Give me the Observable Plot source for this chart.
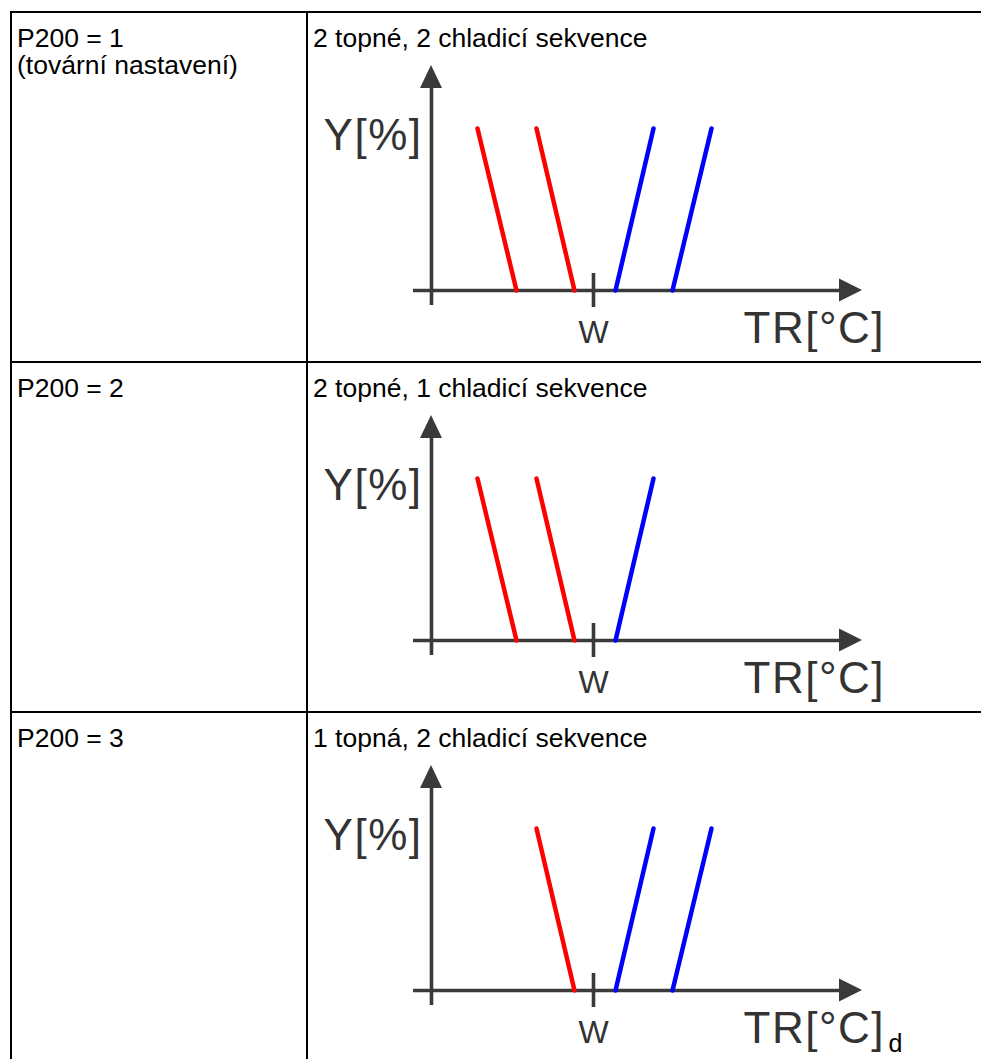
<!DOCTYPE html>
<html>
<head>
<meta charset="utf-8">
<script src="https://cdn.jsdelivr.net/npm/d3@7"></script>
<script src="https://cdn.jsdelivr.net/npm/@observablehq/plot@0.6"></script>
<style>
  html, body { margin: 0; padding: 0; background: #fff; overflow: hidden; }
  #page { position: relative; width: 981px; height: 1059px; overflow: hidden; font-family: "Liberation Sans", Arial, sans-serif; color: #000; }
  .hline { position: absolute; left: 10px; right: 0; height: 2px; background: #000; }
  .vline { position: absolute; top: 11px; bottom: 0; width: 2px; background: #000; }
  .cell { position: absolute; font-size: 26.5px; line-height: 27px; white-space: nowrap; }
  .chart { position: absolute; left: 0; width: 981px; height: 350px; pointer-events: none; }
  .chart svg { overflow: visible; }
  .chart .big text, .chart text.big { letter-spacing: 1.5px; }
</style>
</head>
<body>
<div id="page"></div>
<script>
// ---- data ----
const rowLabels = ["P200 = 1", "P200 = 2", "P200 = 3"];
const rowNotes = ["(tovární nastavení)", "", ""];
const subtitles = ["2 topné, 2 chladicí sekvence", "2 topné, 1 chladicí sekvence", "1 topná, 2 chladicí sekvence"];
const heatingCount = [2, 2, 1];
const coolingCount = [2, 1, 2];
// stages ordered from w outward; x in temperature units relative to w (w = 0)
const heatingAt0 = [-0.95, -3.85];
const heatingAt100 = [-2.85, -5.8];
const coolingAt0 = [1.1, 3.95];
const coolingAt100 = [3.0, 5.9];
const yLevels = [0, 100];
const yAxisLabel = "Y[%]";
const wLabel = "w";
const xAxisLabel = "TR[°C]";
const xAxisSub = ["", "", "d"];
// axis geometry in data units
const yAxisAt = -8.1;
const yAxisSpan = [-9.3, 125];
const yArrowSpan = [124.7, 138.9];
const xAxisSpan = [-9.0, 12.4];
const xArrowSpan = [12.3, 13.45];
const wTickSpan = [-10.5, 10.5];

const axisColor = "#3a3a3a";
const textColor = "#333333";
const font = "Liberation Sans, Arial, sans-serif";

const page = document.getElementById("page");
const rowTop = i => 11 + 350 * i;

// table borders
for (let i = 0; i < 3; i++) {
  const h = document.createElement("div");
  h.className = "hline";
  h.style.top = rowTop(i) + "px";
  page.appendChild(h);
}
for (const x of [10, 306]) {
  const v = document.createElement("div");
  v.className = "vline";
  v.style.left = x + "px";
  page.appendChild(v);
}

function segments(i) {
  const heat = [], cool = [];
  for (let k = 0; k < heatingCount[i]; k++) {
    heat.push({x: heatingAt0[k], y: yLevels[0], id: k}, {x: heatingAt100[k], y: yLevels[1], id: k});
  }
  for (let k = 0; k < coolingCount[i]; k++) {
    cool.push({x: coolingAt0[k], y: yLevels[0], id: k}, {x: coolingAt100[k], y: yLevels[1], id: k});
  }
  return {heat, cool};
}

function chart(i) {
  const {heat, cool} = segments(i);
  const marks = [
    Plot.ruleY([0], {x1: xAxisSpan[0], x2: xAxisSpan[1], stroke: axisColor, strokeWidth: 3.6}),
    Plot.ruleX([yAxisAt], {y1: yAxisSpan[0], y2: yAxisSpan[1], stroke: axisColor, strokeWidth: 3.6}),
    Plot.ruleX([0], {y1: wTickSpan[0], y2: wTickSpan[1], stroke: axisColor, strokeWidth: 3.6}),
    Plot.areaY([{x: xArrowSpan[0], y1: -7.1, y2: 7.1}, {x: xArrowSpan[1], y1: 0, y2: 0}],
      {x: "x", y1: "y1", y2: "y2", fill: axisColor}),
    Plot.areaX([{y: yArrowSpan[0], x1: yAxisAt - 0.55, x2: yAxisAt + 0.55}, {y: yArrowSpan[1], x1: yAxisAt, x2: yAxisAt}],
      {y: "y", x1: "x1", x2: "x2", fill: axisColor}),
    Plot.line(heat, {x: "x", y: "y", z: "id", stroke: "#ff0000", strokeWidth: 4.5, strokeLinecap: "round"}),
    Plot.line(cool, {x: "x", y: "y", z: "id", stroke: "#0000ff", strokeWidth: 4.5, strokeLinecap: "round"}),
    Plot.text([yAxisLabel], {x: -8.55, y: 95.4, text: d => d, textAnchor: "end", fontSize: 44, fill: textColor, fontFamily: font, className: "big"}),
    Plot.text([wLabel.toUpperCase()], {x: 0, y: -25.9, text: d => d, textAnchor: "middle", fontSize: 32, fill: textColor, fontFamily: font}),
    Plot.text([xAxisLabel], {x: 7.5, y: -23.5, text: d => d, textAnchor: "start", fontSize: 44, fill: textColor, fontFamily: font, className: "big"})
  ];
  if (xAxisSub[i]) {
    marks.push(Plot.text([xAxisSub[i]], {x: 14.75, y: -33.3, text: d => d, textAnchor: "start", fontSize: 25, fill: "#000", fontFamily: font}));
  }
  return Plot.plot({
    width: 981,
    height: 350,
    margin: 0,
    x: {domain: [xAxisSpan[0], xArrowSpan[1]], range: [413, 862], axis: null},
    y: {domain: yLevels, range: [290, 128], axis: null},
    style: {background: "transparent", overflow: "visible"},
    marks
  });
}

for (let i = 0; i < 3; i++) {
  const left = document.createElement("div");
  left.className = "cell";
  left.style.left = "17px";
  left.style.top = (rowTop(i) + 14) + "px";
  left.innerHTML = rowLabels[i] + (rowNotes[i] ? "<br>" + rowNotes[i] : "");
  page.appendChild(left);

  const sub = document.createElement("div");
  sub.className = "cell";
  sub.style.left = "313px";
  sub.style.top = (rowTop(i) + 14) + "px";
  sub.textContent = subtitles[i];
  page.appendChild(sub);

  const c = document.createElement("div");
  c.className = "chart";
  c.style.top = (350 * i) + "px";
  c.appendChild(chart(i));
  page.appendChild(c);
}
</script>
</body>
</html>
